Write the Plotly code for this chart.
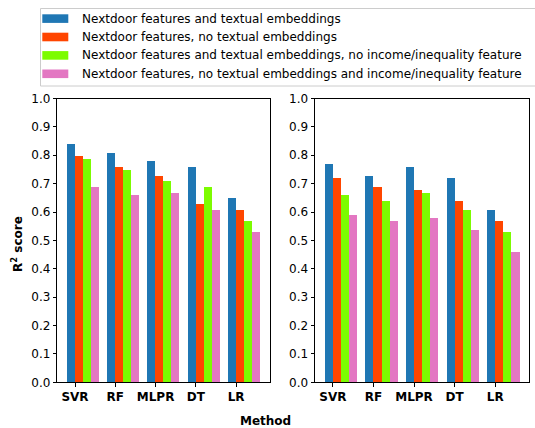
import plotly.graph_objects as go

methods = ["SVR", "RF", "MLPR", "DT", "LR"]
series_names = [
    "Nextdoor features and textual embeddings",
    "Nextdoor features, no textual embeddings",
    "Nextdoor features and textual embeddings, no income/inequality feature",
    "Nextdoor features, no textual embeddings and income/inequality feature",
]
colors = ["#1f77b4", "#ff4500", "#7cfc00", "#e377c2"]

left_values = [
    [0.84, 0.81, 0.78, 0.76, 0.65],
    [0.80, 0.76, 0.73, 0.63, 0.61],
    [0.79, 0.75, 0.71, 0.69, 0.57],
    [0.69, 0.66, 0.67, 0.61, 0.53],
]
right_values = [
    [0.77, 0.73, 0.76, 0.72, 0.61],
    [0.72, 0.69, 0.68, 0.64, 0.57],
    [0.66, 0.64, 0.67, 0.61, 0.53],
    [0.59, 0.57, 0.58, 0.54, 0.46],
]
y_ticks = [round(0.1 * i, 1) for i in range(11)]

W, H = 535, 428
BAR_W = 0.2
FONT = "DejaVu Sans"
FS = 12

fig = go.Figure()
for panel, vals in enumerate([left_values, right_values]):
    xa = "x" if panel == 0 else "x2"
    ya = "y" if panel == 0 else "y2"
    for k, (name, col, v) in enumerate(zip(series_names, colors, vals)):
        xs = [i + (k - 0.5) * BAR_W for i in range(len(methods))]
        fig.add_trace(go.Bar(
            x=xs, y=v, width=BAR_W, name=name, marker_color=col,
            marker_line_width=0, xaxis=xa, yaxis=ya, showlegend=False,
        ))

def px(x):
    return x / W

def py(y):
    return 1 - y / H

y_dom = [py(382.3), py(98.5)]
axis_common = dict(
    showline=True, linecolor="black", linewidth=1, mirror=True,
    ticks="outside", ticklen=3.5, tickcolor="black", tickwidth=1,
    showgrid=False, zeroline=False, automargin=False,
)
xcommon = dict(axis_common, range=[-0.44, 4.84], tickvals=list(range(len(methods))),
               ticktext=["<b>%s</b>" % m for m in methods],
               tickfont=dict(family=FONT, size=FS, color="black"))
ycommon = dict(axis_common, range=[0, 1.0], tickvals=y_ticks,
               ticktext=["%.1f" % t for t in y_ticks],
               tickfont=dict(family=FONT, size=FS, color="black"))

fig.update_layout(
    template="none",
    width=W, height=H,
    margin=dict(l=0, r=0, t=0, b=0, pad=0, autoexpand=False),
    paper_bgcolor="white", plot_bgcolor="white",
    bargap=0,
    xaxis=dict(xcommon, domain=[px(57.3), px(270.0)], anchor="y"),
    yaxis=dict(ycommon, domain=y_dom, anchor="x"),
    xaxis2=dict(xcommon, domain=[px(315.0), px(529.3)], anchor="y2"),
    yaxis2=dict(ycommon, domain=y_dom, anchor="x2"),
    font=dict(family=FONT, color="black", size=FS),
)

shapes = []
annotations = []
# legend frame
shapes.append(dict(type="rect", xref="paper", yref="paper",
                   x0=px(40.5), x1=px(545), y0=py(86), y1=py(8.5),
                   line=dict(color="#cccccc", width=1), fillcolor="white", layer="below"))
row_y = [18.6, 37.0, 55.4, 73.8]
for k, (name, col) in enumerate(zip(series_names, colors)):
    yc = row_y[k]
    shapes.append(dict(type="rect", xref="paper", yref="paper",
                       x0=px(42.3), x1=px(68.3), y0=py(yc + 4.3), y1=py(yc - 4.3),
                       line=dict(width=0), fillcolor=col))
    annotations.append(dict(text=name, xref="paper", yref="paper",
                            x=px(80.0), y=py(yc), xanchor="left", yanchor="middle",
                            showarrow=False, font=dict(family=FONT, size=FS, color="black")))

annotations.append(dict(text="<b>Method</b>", xref="paper", yref="paper",
                        x=px(265.7), y=py(420.7), xanchor="center", yanchor="middle",
                        showarrow=False, font=dict(family=FONT, size=FS, color="black")))
annotations.append(dict(text="<b>R<sup>2</sup> score</b>", xref="paper", yref="paper",
                        x=px(17), y=py(244), xanchor="center", yanchor="middle", textangle=-90,
                        showarrow=False, font=dict(family=FONT, size=FS, color="black")))

fig.update_layout(shapes=shapes, annotations=annotations)
fig.write_html(
    "out.html",
    config={"displayModeBar": False},
    post_script="document.body.style.margin='0';document.body.style.overflow='hidden';",
)
